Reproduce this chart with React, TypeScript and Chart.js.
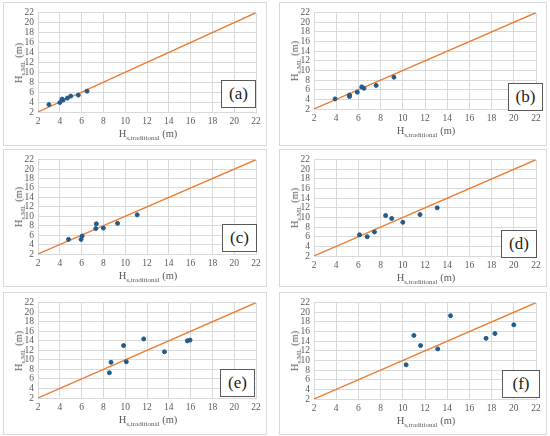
import { useEffect, useRef } from 'react';
import { Chart, registerables } from 'chart.js';

Chart.register(...registerables);

// H_s,traditional (x) vs H_s,ML (y)
const tradA = [3.0, 4.0, 4.2, 4.3, 4.7, 5.0, 5.7, 6.5];
const mlA = [3.5, 3.9, 4.6, 4.4, 4.8, 5.2, 5.4, 6.2];

const tradB = [3.9, 5.2, 5.2, 5.9, 6.3, 6.5, 7.6, 9.2];
const mlB = [4.1, 4.9, 4.6, 5.5, 6.6, 6.3, 6.9, 8.6];

const tradC = [4.8, 5.95, 6.05, 7.3, 7.35, 8.0, 9.3, 11.1];
const mlC = [5.1, 5.1, 5.8, 7.4, 8.4, 7.5, 8.5, 10.3];

const tradD = [6.1, 6.8, 7.45, 8.45, 9.0, 10.0, 11.55, 13.1];
const mlD = [6.4, 6.0, 7.0, 10.4, 9.8, 9.0, 10.6, 12.0];

const tradE = [8.55, 8.7, 9.85, 10.1, 11.7, 13.6, 15.7, 15.95];
const mlE = [7.3, 9.5, 13.0, 9.6, 14.4, 11.7, 14.0, 14.15];

const tradF = [10.3, 11.0, 11.6, 13.15, 14.3, 17.5, 18.3, 20.0];
const mlF = [9.1, 15.2, 13.1, 12.4, 19.3, 14.6, 15.6, 17.4];

// 1:1 reference line and shared axis range
const identityLine = [2, 22];
const axisMin = 2;
const axisMax = 22;
const axisStep = 2;

const panelLabels = ['(a)', '(b)', '(c)', '(d)', '(e)', '(f)'];

const SERIF = '"Liberation Serif", "DejaVu Serif", serif';
const TEXT_GRAY = '#595959';

interface PanelProps {
    label: string;
    trad: number[];
    ml: number[];
    left: number;
    top: number;
    width: number;
    height: number;
    bottomInset: number;
    boxX: number;
    boxY: number;
    boxW: number;
}

function Panel({ label, trad, ml, left, top, width, height, bottomInset, boxX, boxY, boxW }: PanelProps) {
    const canvasRef = useRef<HTMLCanvasElement>(null);

    const leftInset = 35;
    const rightInset = 11;
    const topInset = 9;

    useEffect(() => {
        if (!canvasRef.current) return;
        const ctx = canvasRef.current.getContext('2d');
        if (!ctx) return;

        const tickFont = { family: SERIF, size: 9.5 };

        const chart = new Chart(ctx, {
            type: 'scatter',
            data: {
                datasets: [
                    {
                        data: trad.map((x, i) => ({ x, y: ml[i] })),
                        backgroundColor: '#235B8C',
                        borderColor: '#235B8C',
                        pointRadius: 2,
                        order: 1
                    },
                    {
                        data: identityLine.map(v => ({ x: v, y: v })),
                        showLine: true,
                        borderColor: '#ED7D31',
                        borderWidth: 1.3,
                        pointRadius: 0,
                        order: 2
                    }
                ]
            },
            options: {
                animation: false,
                responsive: true,
                maintainAspectRatio: false,
                layout: { padding: { left: 0, right: rightInset - 1, top: topInset - 1, bottom: 0 } },
                plugins: {
                    legend: { display: false },
                    tooltip: { enabled: false }
                },
                scales: {
                    x: {
                        type: 'linear',
                        min: axisMin,
                        max: axisMax,
                        ticks: { stepSize: axisStep, autoSkip: false, color: TEXT_GRAY, font: tickFont, padding: 4, maxRotation: 0 },
                        grid: { color: '#d9d9d9', drawTicks: false },
                        border: { color: '#d9d9d9' },
                        afterFit: (scale: any) => { scale.height = bottomInset - 1; }
                    },
                    y: {
                        type: 'linear',
                        min: axisMin,
                        max: axisMax,
                        ticks: { stepSize: axisStep, autoSkip: false, color: TEXT_GRAY, font: tickFont, padding: 4 },
                        grid: { color: '#d9d9d9', drawTicks: false },
                        border: { color: '#d9d9d9' },
                        afterFit: (scale: any) => { scale.width = leftInset - 1; }
                    }
                }
            }
        });

        return () => chart.destroy();
    }, [trad, ml, bottomInset]);

    const plotCenterX = (leftInset + (width - rightInset)) / 2;
    const plotCenterY = (topInset + (height - bottomInset)) / 2;

    return (
        <div style={{
            position: 'absolute', left, top, width, height,
            border: '1px solid #d9d9d9', boxSizing: 'border-box', background: '#fff'
        }}>
            <canvas ref={canvasRef}></canvas>
            <div style={{
                position: 'absolute', left: 16, top: plotCenterY,
                transform: 'translate(-50%, -50%) rotate(-90deg)',
                whiteSpace: 'nowrap', fontFamily: SERIF, fontSize: 10.5, color: TEXT_GRAY
            }}>
                H<sub style={{ fontSize: 7 }}>s,ML</sub> (m)
            </div>
            <div style={{
                position: 'absolute', left: plotCenterX, top: height - bottomInset + 22,
                transform: 'translate(-50%, -50%)',
                whiteSpace: 'nowrap', fontFamily: SERIF, fontSize: 10.5, color: TEXT_GRAY
            }}>
                H<sub style={{ fontSize: 7 }}>s,traditional</sub> (m)
            </div>
            <div style={{
                position: 'absolute', left: boxX, top: boxY, width: boxW, height: 28,
                border: '1.5px solid #595959', boxSizing: 'border-box', background: '#fff',
                display: 'flex', alignItems: 'center', justifyContent: 'center',
                fontFamily: SERIF, fontSize: 17, color: '#222'
            }}>
                {label}
            </div>
        </div>
    );
}

export default function App() {
    return (
        <div style={{ position: 'fixed', left: 0, top: 0, width: 550, height: 436, background: '#fff' }}>
            <Panel label={panelLabels[0]} trad={tradA} ml={mlA} left={3} top={2} width={264} height={144} bottomInset={34} boxX={217} boxY={77} boxW={35} />
            <Panel label={panelLabels[1]} trad={tradB} ml={mlB} left={279} top={2} width={268} height={144} bottomInset={37} boxX={228} boxY={80} boxW={35} />
            <Panel label={panelLabels[2]} trad={tradC} ml={mlC} left={3} top={149} width={264} height={138} bottomInset={33} boxX={218} boxY={74} boxW={35} />
            <Panel label={panelLabels[3]} trad={tradD} ml={mlD} left={279} top={149} width={268} height={138} bottomInset={31} boxX={221} boxY={80} boxW={36} />
            <Panel label={panelLabels[4]} trad={tradE} ml={mlE} left={3} top={292} width={264} height={143} bottomInset={37} boxX={216} boxY={76} boxW={35} />
            <Panel label={panelLabels[5]} trad={tradF} ml={mlF} left={279} top={292} width={268} height={143} bottomInset={36} boxX={222} boxY={77} boxW={38} />
        </div>
    );
}
